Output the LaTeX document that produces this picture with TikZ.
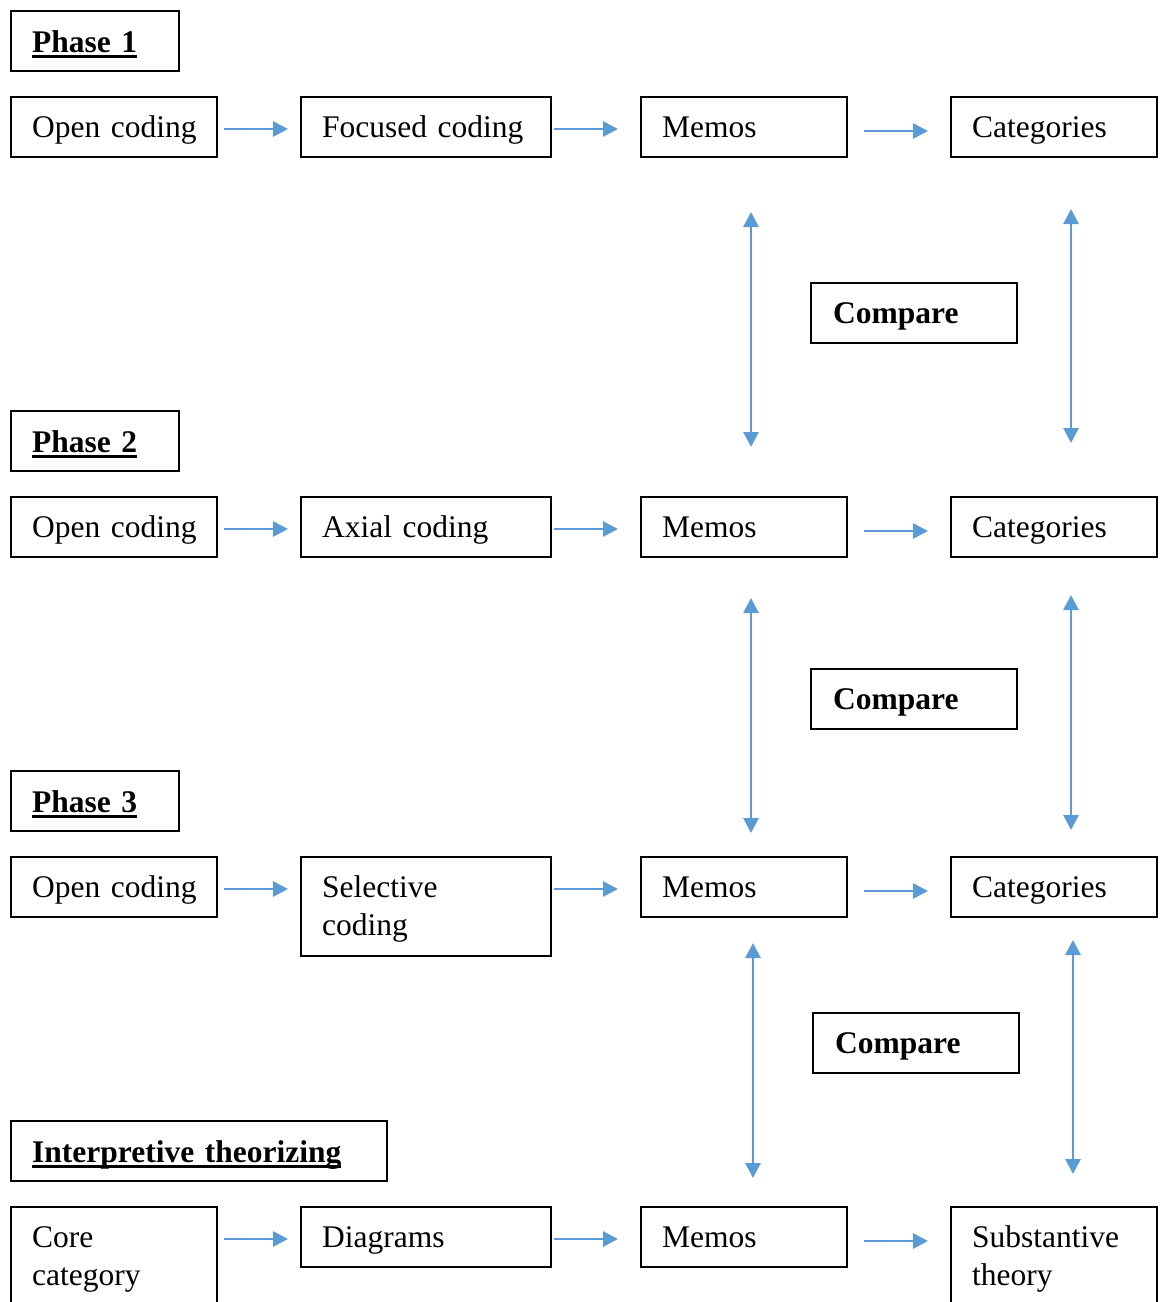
\documentclass[tikz,border=0pt]{standalone}
\usepackage{fontspec}
\setmainfont{Liberation Serif}
\usetikzlibrary{arrows.meta}
\definecolor{arrblue}{HTML}{5B9BD5}
\newcommand\myul[1]{\setbox0\hbox{#1}\rlap{\rule[-5.5pt]{\wd0}{2.6pt}}\box0}
\tikzset{
  box/.style={draw=black, line width=2pt, anchor=north west, inner sep=0pt, outer sep=0pt, minimum height=60pt},
  wbox/.style={box, minimum width=206pt},
  cbox/.style={box, minimum width=250pt},
  hbox/.style={box, minimum width=168pt},
  txt/.style={anchor=base west, inner sep=0pt, font=\fontsize{31.5}{38}\selectfont, text width=220pt, align=left},
  htxt/.style={txt, font=\fontsize{31.5}{38}\selectfont\bfseries},
  arr/.style={draw=arrblue, line width=2.8pt, -{Triangle[length=15pt,width=15pt]}},
  darr/.style={draw=arrblue, line width=2.8pt, {Triangle[length=15pt,width=15pt]}-{Triangle[length=15pt,width=15pt]}}
}
\begin{document}
\begin{tikzpicture}[x=1pt,y=-1pt]
\useasboundingbox[fill=white] (0,0) rectangle (1163,1302);
\clip (0,0) rectangle (1163,1302);

% ---------- Phase 1 ----------
\node[hbox] (p1) at (11,11) {};
\node[htxt] at ([xshift=21pt,yshift=-41pt]p1.north west) {\myul{Phase 1}};
\node[wbox] (oc1) at (11,97) {};
\node[cbox] (fc1) at (301,97) {};
\node[wbox] (m1) at (641,97) {};
\node[wbox] (c1) at (951,97) {};
\node[txt] at ([xshift=21pt,yshift=-40pt]oc1.north west) {Open coding};
\node[txt] at ([xshift=21pt,yshift=-40pt]fc1.north west) {Focused coding};
\node[txt] at ([xshift=21pt,yshift=-40pt]m1.north west) {Memos};
\node[txt] at ([xshift=21pt,yshift=-40pt]c1.north west) {Categories};
\draw[arr] ([xshift=7pt,yshift=-2pt]oc1.east) -- ([xshift=-13pt,yshift=-2pt]fc1.west);
\draw[arr] ([xshift=3pt,yshift=-2pt]fc1.east) -- ([xshift=-23pt,yshift=-2pt]m1.west);
\draw[arr] ([xshift=17pt,yshift=-4pt]m1.east) -- ([xshift=-23pt,yshift=-4pt]c1.west);

\node[wbox] (cmp1) at (811,283) {};
\node[htxt] at ([xshift=22pt,yshift=-40pt]cmp1.north west) {Compare};

% ---------- Phase 2 ----------
\node[hbox] (p2) at (11,411) {};
\node[htxt] at ([xshift=21pt,yshift=-41pt]p2.north west) {\myul{Phase 2}};
\node[wbox] (oc2) at (11,497) {};
\node[cbox] (ac2) at (301,497) {};
\node[wbox] (m2) at (641,497) {};
\node[wbox] (c2) at (951,497) {};
\node[txt] at ([xshift=21pt,yshift=-40pt]oc2.north west) {Open coding};
\node[txt] at ([xshift=21pt,yshift=-40pt]ac2.north west) {Axial coding};
\node[txt] at ([xshift=21pt,yshift=-40pt]m2.north west) {Memos};
\node[txt] at ([xshift=21pt,yshift=-40pt]c2.north west) {Categories};
\draw[arr] ([xshift=7pt,yshift=-2pt]oc2.east) -- ([xshift=-13pt,yshift=-2pt]ac2.west);
\draw[arr] ([xshift=3pt,yshift=-2pt]ac2.east) -- ([xshift=-23pt,yshift=-2pt]m2.west);
\draw[arr] ([xshift=17pt,yshift=-4pt]m2.east) -- ([xshift=-23pt,yshift=-4pt]c2.west);

\draw[darr] ([xshift=7pt,yshift=-55pt]m1.south) -- ([xshift=7pt,yshift=50pt]m2.north);
\draw[darr] ([xshift=17pt,yshift=-52pt]c1.south) -- ([xshift=17pt,yshift=54pt]c2.north);

\node[wbox] (cmp2) at (811,669) {};
\node[htxt] at ([xshift=22pt,yshift=-40pt]cmp2.north west) {Compare};

% ---------- Phase 3 ----------
\node[hbox] (p3) at (11,771) {};
\node[htxt] at ([xshift=21pt,yshift=-41pt]p3.north west) {\myul{Phase 3}};
\node[wbox] (oc3) at (11,857) {};
\node[cbox, minimum height=99pt] (sc3) at (301,857) {};
\node[wbox] (m3) at (641,857) {};
\node[wbox] (c3) at (951,857) {};
\node[txt] at ([xshift=21pt,yshift=-40pt]oc3.north west) {Open coding};
\node[txt] at ([xshift=21pt,yshift=-40pt]sc3.north west) {Selective\\coding};
\node[txt] at ([xshift=21pt,yshift=-40pt]m3.north west) {Memos};
\node[txt] at ([xshift=21pt,yshift=-40pt]c3.north west) {Categories};
\draw[arr] ([xshift=7pt,yshift=-2pt]oc3.east) -- ([xshift=-13pt,yshift=-2pt]sc3.west |- oc3.east);
\draw[arr] ([xshift=3pt,yshift=-2pt]sc3.east |- m3.east) -- ([xshift=-23pt,yshift=-2pt]m3.west);
\draw[arr] ([xshift=17pt,yshift=-4pt]m3.east) -- ([xshift=-23pt,yshift=-4pt]c3.west);

\draw[darr] ([xshift=7pt,yshift=-41pt]m2.south) -- ([xshift=7pt,yshift=24pt]m3.north);
\draw[darr] ([xshift=17pt,yshift=-38pt]c2.south) -- ([xshift=17pt,yshift=27pt]c3.north);

\node[wbox] (cmp3) at (813,1013) {};
\node[htxt] at ([xshift=22pt,yshift=-40pt]cmp3.north west) {Compare};

% ---------- Interpretive theorizing ----------
\node[box, minimum width=376pt] (p4) at (11,1121) {};
\node[htxt, text width=360pt] at ([xshift=21pt,yshift=-41pt]p4.north west) {\myul{Interpretive theorizing}};
\node[wbox, minimum height=120pt] (cc4) at (11,1207) {};
\node[cbox] (dg4) at (301,1207) {};
\node[wbox] (m4) at (641,1207) {};
\node[wbox, minimum height=120pt] (st4) at (951,1207) {};
\node[txt] at ([xshift=21pt,yshift=-40pt]cc4.north west) {Core\\category};
\node[txt] at ([xshift=21pt,yshift=-40pt]dg4.north west) {Diagrams};
\node[txt] at ([xshift=21pt,yshift=-40pt]m4.north west) {Memos};
\node[txt] at ([xshift=21pt,yshift=-40pt]st4.north west) {Substantive\\theory};
\draw[arr] ([xshift=7pt,yshift=-2pt]cc4.east |- dg4.west) -- ([xshift=-13pt,yshift=-2pt]dg4.west);
\draw[arr] ([xshift=3pt,yshift=-2pt]dg4.east) -- ([xshift=-23pt,yshift=-2pt]m4.west);
\draw[arr] ([xshift=17pt,yshift=-4pt]m4.east) -- ([xshift=-23pt,yshift=-4pt]st4.west |- m4.east);

\draw[darr] ([xshift=9pt,yshift=-26pt]m3.south) -- ([xshift=9pt,yshift=29pt]m4.north);
\draw[darr] ([xshift=19pt,yshift=-23pt]c3.south) -- ([xshift=19pt,yshift=33pt]st4.north);
\end{tikzpicture}
\end{document}
